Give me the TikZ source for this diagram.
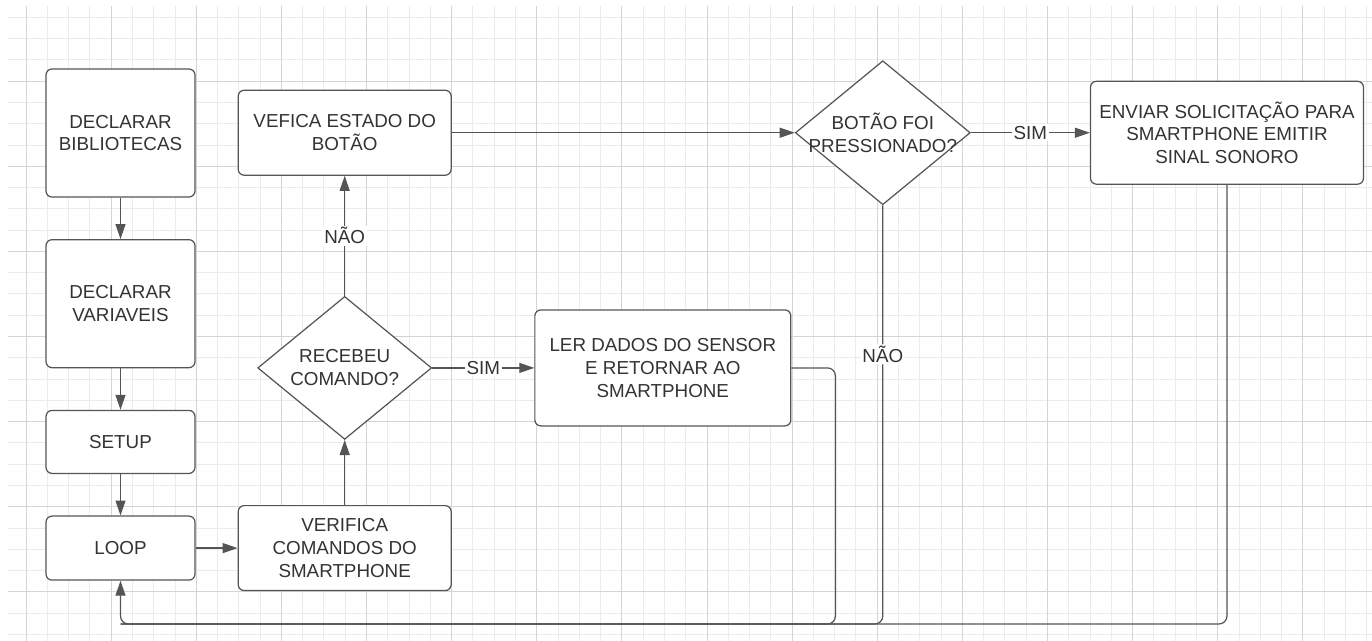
\documentclass[tikz,border=0pt]{standalone}
\usepackage{fontspec}
\setmainfont{Liberation Sans}
\usetikzlibrary{shapes.geometric, arrows.meta, positioning}

\definecolor{linha}{HTML}{555555}
\definecolor{texto}{HTML}{333333}
\definecolor{gradefina}{HTML}{EBEBEB}
\definecolor{gradeforte}{HTML}{D4D4D4}

\begin{document}
\begin{tikzpicture}[
        x=0.02cm, y=-0.02cm,
        font=\fontsize{10.7}{13}\selectfont,
        node distance=0.83cm,
        box/.style={rectangle, draw=linha, fill=white, rounded corners=0.12cm, align=center, text=texto, line width=0.7pt},
        decision/.style={diamond, draw=linha, fill=white, align=center, text=texto, line width=0.7pt, inner sep=1pt, shape aspect=1.22, minimum width=3.48cm, minimum height=2.86cm},
        arrow/.style={draw=linha, line width=0.7pt, -{Triangle[length=3mm, width=2mm]}},
        line/.style={draw=linha, line width=0.7pt},
        tag/.style={fill=white, text=texto, inner sep=1pt}
    ]
        \useasboundingbox (0,0) rectangle (1372,641);
        \fill[white] (0,0) rectangle (1372,641);

        % Grid
        \foreach \k in {0,...,63} \draw[gradefina, line width=0.5pt] ({26+21.28*\k},6) -- ({26+21.28*\k},641);
        \foreach \k in {0,...,29} \draw[gradefina, line width=0.5pt] (8,{17.3+21.28*\k}) -- (1372,{17.3+21.28*\k});
        \foreach \k in {0,...,15} \draw[gradeforte, line width=0.5pt] ({26+85.12*\k},6) -- ({26+85.12*\k},641);
        \foreach \k in {0,...,6} \draw[gradeforte, line width=0.5pt] (8,{81.14+85.12*\k}) -- (1372,{81.14+85.12*\k});

        % Nodes
        \node[box, minimum width=2.98cm, minimum height=2.56cm] (bib) at (120.5,133) {DECLARAR\\BIBLIOTECAS};
        \node[box, minimum width=2.98cm, minimum height=2.56cm, below=of bib] (var) {DECLARAR\\VARIAVEIS};
        \node[box, minimum width=2.98cm, minimum height=1.26cm, below=of var] (setup) {SETUP};
        \node[box, minimum width=2.98cm, minimum height=1.28cm, below=of setup] (loop) {LOOP};
        \node[box, minimum width=4.26cm, minimum height=1.7cm, right=0.84cm of loop] (verif) {VERIFICA\\COMANDOS DO\\SMARTPHONE};
        \node[decision, above=1.3cm of verif] (recebeu) {RECEBEU\\COMANDO?};
        \node[box, minimum width=4.26cm, minimum height=1.7cm, above=2.4cm of recebeu] (estado) {VEFICA ESTADO DO\\BOTÃO};
        \node[box, minimum width=5.12cm, minimum height=2.32cm, right=2.04cm of recebeu] (ler) {LER DADOS DO SENSOR\\E RETORNAR AO\\SMARTPHONE};
        \node[decision, minimum width=3.5cm, minimum height=2.88cm, right=6.86cm of estado,
            label={[align=center, text=texto]center:BOTÃO FOI\\PRESSIONADO?}] (botao) {};
        \node[box, minimum width=5.46cm, minimum height=2.06cm, right=2.38cm of botao] (enviar) {ENVIAR SOLICITAÇÃO PARA\\SMARTPHONE EMITIR\\SINAL SONORO};
        \coordinate (retorno) at (0,624);

        % Arrows
        \draw[arrow] (bib) -- (var);
        \draw[arrow] (var) -- (setup);
        \draw[arrow] (setup) -- (loop);
        \draw[arrow] (loop) -- (verif);
        \draw[arrow] (verif) -- (recebeu);
        \draw[arrow] (recebeu) -- node[tag] {NÃO} (estado);
        \draw[arrow] (recebeu) -- node[tag] {SIM} (ler);
        \draw[arrow] (estado) -- (botao);
        \draw[arrow] (botao) -- node[tag] {SIM} (enviar);
        \draw[line, rounded corners=0.16cm] (ler.east) -- ++(44,0) |- (loop.south |- retorno);
        \draw[line, rounded corners=0.16cm] (botao.south) |- node[tag, pos=0.178] {NÃO} (loop.south |- retorno);
        \draw[arrow, rounded corners=0.16cm] (enviar.south) |- (loop.south |- retorno) -- (loop.south);
    \end{tikzpicture}
\end{document}
